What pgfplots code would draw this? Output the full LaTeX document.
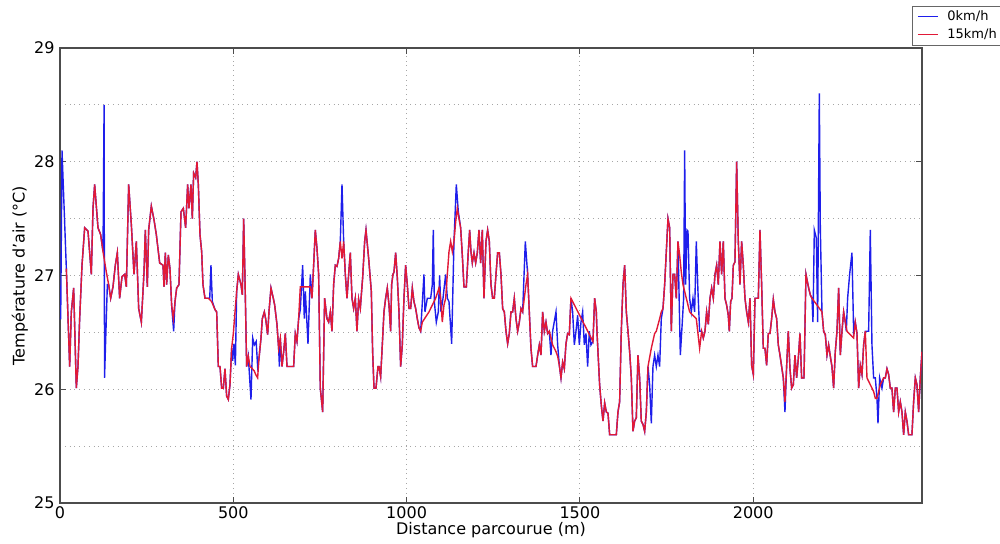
\documentclass[border=0pt]{standalone}
\usepackage{fontspec}
\setmainfont{DejaVu Sans}
\usepackage{pgfplots}
\usepackage{pgfplotstable}
\pgfplotsset{compat=1.18}
\definecolor{mplblue}{RGB}{30,30,235}
\definecolor{mplred}{RGB}{225,25,55}

\pgfplotstableread{
x y
18.3 27.06
27.9 26.20
32.7 26.68
39.4 26.89
47.1 26.01
51.9 26.20
56.7 26.62
63.5 27.09
71.2 27.42
80.8 27.39
90.4 27.01
95.2 27.59
100.0 27.80
104.8 27.61
109.6 27.42
117.3 27.36
124.1 27.21
133.7 27.03
140.4 26.92
146.2 26.80
152.9 26.90
159.6 27.09
165.4 27.20
172.1 26.80
178.9 26.99
186.6 27.01
191.4 26.90
198.1 27.80
205.8 27.45
213.5 27.01
220.2 27.30
227.0 26.71
234.7 26.59
242.4 27.03
246.2 27.40
252.0 26.90
255.8 27.40
263.5 27.61
271.2 27.49
277.9 27.36
287.6 27.11
297.2 27.09
300.1 26.90
303.9 27.20
307.7 26.92
312.5 27.18
317.3 27.06
322.1 26.74
326.9 26.62
331.8 26.77
336.6 26.89
343.3 26.92
349.1 27.56
355.8 27.59
362.5 27.42
368.3 27.80
372.1 27.59
377.9 27.80
381.8 27.50
385.6 27.90
391.4 27.86
395.2 28.00
399.1 27.80
403.9 27.36
408.7 27.21
412.5 26.92
418.3 26.80
427.9 26.80
437.5 26.77
447.2 26.70
452.0 26.68
456.8 26.20
461.6 26.20
466.4 26.01
471.2 26.01
476.0 26.18
480.8 25.94
485.6 25.91
490.4 26.04
495.2 26.36
500.1 26.49
504.9 26.68
509.7 26.86
514.5 27.01
522.2 26.92
526.0 26.83
529.9 27.50
533.7 26.98
538.5 26.20
543.3 26.29
548.1 26.20
554.9 26.18
560.6 26.16
564.5 26.13
570.2 26.10
574.1 26.27
579.9 26.45
583.7 26.62
589.5 26.68
593.3 26.62
599.1 26.48
602.9 26.68
608.7 26.89
615.4 26.80
619.3 26.74
626.0 26.57
630.8 26.36
635.6 26.45
640.5 26.20
645.3 26.33
650.1 26.49
654.9 26.20
664.5 26.20
674.1 26.20
678.9 26.49
683.7 26.42
688.5 26.62
693.3 26.90
722.2 26.90
727.0 26.80
731.8 27.09
736.6 27.40
741.4 27.24
746.2 27.01
751.0 26.01
757.8 25.80
763.5 26.80
770.3 26.62
775.1 26.59
779.9 26.68
784.7 26.51
789.5 26.92
794.3 27.09
799.1 27.08
803.9 27.15
808.7 27.30
813.6 27.15
818.4 27.30
823.2 27.01
828.0 26.80
832.8 27.01
837.6 27.20
842.4 26.80
847.2 26.71
852.0 26.80
856.8 26.51
861.6 26.79
866.4 26.71
873.2 26.98
879.0 27.30
882.8 27.40
890.5 27.15
898.2 26.86
902.0 26.33
905.9 26.01
911.7 26.01
917.4 26.20
920.3 26.20
925.1 26.11
929.9 26.39
934.7 26.68
939.5 26.80
944.3 26.89
949.2 26.74
954.0 26.51
956.8 26.92
960.7 27.01
963.6 27.03
968.4 27.20
973.2 26.98
978.0 26.68
982.8 26.20
987.6 26.39
992.4 26.80
997.2 27.09
1002.0 26.92
1006.9 26.71
1011.7 26.71
1016.5 26.89
1021.3 26.77
1026.1 26.71
1030.9 26.62
1035.7 26.54
1040.5 26.51
1045.3 26.59
1064.6 26.68
1083.8 26.80
1093.4 26.89
1098.2 26.80
1103.0 26.59
1107.8 26.74
1112.7 26.80
1117.5 27.01
1122.3 27.21
1127.1 27.30
1131.9 27.21
1136.7 27.30
1141.5 27.47
1146.3 27.59
1151.1 27.50
1155.9 27.42
1160.7 27.18
1165.5 26.90
1172.3 26.90
1178.0 27.21
1181.9 27.40
1185.7 27.21
1189.6 27.11
1194.4 27.20
1199.2 27.11
1204.0 27.20
1208.8 27.40
1213.6 27.11
1218.4 27.40
1223.2 26.80
1229.0 27.30
1233.8 27.40
1238.6 27.30
1243.4 26.92
1248.2 26.80
1253.0 26.80
1257.9 27.01
1262.7 27.20
1267.5 27.20
1272.3 27.01
1277.1 26.71
1281.9 26.68
1286.7 26.51
1291.5 26.40
1296.3 26.49
1301.1 26.68
1305.9 26.68
1310.7 26.80
1315.6 26.62
1320.4 26.51
1325.2 26.59
1330.0 26.71
1334.8 26.68
1339.6 26.80
1344.4 26.92
1349.2 27.01
1354.0 26.68
1358.8 26.36
1363.6 26.20
1373.3 26.20
1378.1 26.30
1382.9 26.39
1387.7 26.30
1392.5 26.68
1397.3 26.51
1402.1 26.59
1406.9 26.49
1411.7 26.51
1416.5 26.45
1421.3 26.39
1426.2 26.36
1431.0 26.33
1435.8 26.29
1440.6 26.21
1445.4 26.10
1450.2 26.24
1455.0 26.18
1459.8 26.40
1464.6 26.49
1469.4 26.48
1474.2 26.80
1537.7 26.42
1542.5 26.80
1547.3 26.68
1549.2 26.51
1552.1 26.33
1556.9 26.04
1561.7 25.86
1566.6 25.72
1571.4 25.88
1576.2 25.80
1581.0 25.79
1585.8 25.60
1605.0 25.60
1609.8 25.80
1614.6 25.89
1619.4 26.51
1624.3 26.92
1629.1 27.09
1633.9 26.68
1638.7 26.51
1643.5 26.33
1648.3 26.10
1653.1 25.63
1657.9 25.72
1662.7 25.75
1667.5 26.30
1672.3 26.10
1677.1 25.72
1682.0 25.69
1686.8 25.63
1691.6 25.80
1696.4 26.20
1706.0 26.36
1715.6 26.49
1720.4 26.51
1730.0 26.62
1734.8 26.68
1739.7 26.71
1744.5 26.92
1749.3 27.21
1754.1 27.50
1758.9 27.42
1763.7 26.51
1768.5 27.01
1773.3 27.01
1778.1 26.80
1782.9 27.30
1787.7 27.18
1792.5 27.03
1797.4 26.92
1807.0 26.80
1816.6 26.68
1826.2 26.65
1835.8 26.62
1845.4 26.36
1851.2 26.51
1856.0 26.45
1860.8 26.51
1865.6 26.68
1870.4 26.57
1875.3 26.80
1880.1 26.89
1884.9 26.80
1889.7 27.01
1894.5 27.09
1899.3 26.92
1904.1 27.30
1908.9 27.01
1913.7 27.30
1918.5 26.80
1923.3 26.74
1928.1 26.65
1931.0 26.51
1934.9 26.77
1938.7 26.80
1942.6 27.09
1947.4 27.12
1952.2 28.00
1957.0 27.30
1961.8 26.92
1966.6 27.30
1971.4 27.09
1976.2 26.80
1981.0 26.68
1985.9 26.59
1990.7 26.80
1995.5 26.21
2000.3 26.13
2005.1 26.80
2014.7 26.80
2019.5 27.40
2024.3 26.92
2029.1 26.36
2033.9 26.36
2038.7 26.21
2043.5 26.49
2048.4 26.49
2053.2 26.62
2058.0 26.79
2062.8 26.68
2067.6 26.62
2072.4 26.39
2077.2 26.30
2082.0 26.20
2086.8 26.10
2091.6 25.89
2096.4 26.20
2101.2 26.51
2106.1 26.18
2110.9 26.01
2115.7 26.04
2120.5 26.30
2125.3 26.10
2130.1 26.27
2134.9 26.49
2139.7 26.10
2146.5 26.10
2152.2 27.01
2159.9 26.89
2164.7 26.83
2169.5 26.80
2184.0 26.74
2198.4 26.68
2203.2 26.51
2208.0 26.48
2212.8 26.30
2217.6 26.39
2222.4 26.29
2227.2 26.20
2232.0 26.01
2236.8 26.33
2241.7 26.51
2246.5 26.89
2251.3 26.30
2256.1 26.51
2260.9 26.68
2265.7 26.59
2270.5 26.51
2280.1 26.48
2289.7 26.45
2294.5 26.59
2299.4 26.49
2304.2 26.01
2309.0 26.21
2313.8 26.13
2318.6 26.39
2323.4 26.51
2328.2 26.10
2337.8 26.04
2347.4 25.98
2352.3 25.92
2357.1 25.92
2361.9 25.98
2366.7 26.04
2376.3 26.10
2381.1 26.10
2385.9 26.18
2390.7 26.13
2395.5 26.01
2400.3 26.01
2405.1 25.80
2410.0 26.01
2414.8 26.01
2419.6 25.80
2424.4 25.89
2429.2 25.80
2434.0 25.60
2438.8 25.80
2443.6 25.72
2448.4 25.60
2458.0 25.60
2462.8 25.89
2467.7 26.10
2472.5 26.04
2477.3 25.80
2482.1 26.10
2486.9 26.33
}\redtab

\pgfplotstableread{
x y
0 26.62
2 26.62
5.8 28.10
18.3 27.06
27.9 26.20
32.7 26.68
39.4 26.89
47.1 26.01
51.9 26.20
56.7 26.62
63.5 27.09
71.2 27.42
80.8 27.39
90.4 27.01
95.2 27.59
100.0 27.80
104.8 27.61
109.6 27.42
117.3 27.36
124.1 27.21
127.2 28.50
128.5 26.10
136.6 26.92
140.4 26.92
146.2 26.80
152.9 26.90
159.6 27.09
165.4 27.20
172.1 26.80
178.9 26.99
186.6 27.01
191.4 26.90
198.1 27.80
205.8 27.45
213.5 27.01
220.2 27.30
227.0 26.71
234.7 26.59
242.4 27.03
246.2 27.40
252.0 26.90
255.8 27.40
263.5 27.61
271.2 27.49
277.9 27.36
287.6 27.11
297.2 27.09
300.1 26.90
303.9 27.20
307.7 26.92
312.5 27.18
317.3 27.06
322.1 26.74
327.9 26.51
331.8 26.77
336.6 26.89
343.3 26.92
349.1 27.56
355.8 27.59
362.5 27.42
368.3 27.80
372.1 27.59
377.9 27.80
381.8 27.50
385.6 27.90
391.4 27.86
395.2 28.00
399.1 27.80
403.9 27.36
408.7 27.21
412.5 26.92
418.3 26.80
427.9 26.80
432.0 26.80
435.6 27.09
439.5 26.77
447.2 26.70
452.0 26.68
456.8 26.20
461.6 26.20
466.4 26.01
471.2 26.01
476.0 26.18
480.8 25.94
485.6 25.91
490.4 26.04
495.2 26.36
498.0 26.25
502.0 26.40
506.0 26.21
509.7 26.86
514.5 27.01
522.2 26.92
526.0 26.83
529.9 27.50
533.7 26.98
538.5 26.20
543.3 26.29
551.0 25.91
556.0 26.45
560.6 26.39
566.0 26.42
570.2 26.20
574.1 26.27
579.9 26.45
583.7 26.62
589.5 26.68
593.3 26.62
599.1 26.48
602.9 26.68
608.7 26.89
615.4 26.80
619.3 26.74
626.0 26.57
630.8 26.36
633.0 26.20
635.6 26.45
640.5 26.20
645.3 26.33
650.1 26.49
654.9 26.20
664.5 26.20
674.1 26.20
678.9 26.49
683.7 26.42
688.5 26.62
693.3 26.70
700.1 27.09
704.9 26.62
707.8 26.86
715.5 26.40
722.2 27.01
727.0 26.80
731.8 27.09
736.6 27.40
741.4 27.24
746.2 27.01
751.0 26.01
757.8 25.80
763.5 26.80
770.3 26.62
775.1 26.59
779.9 26.68
784.7 26.51
789.5 26.92
794.3 27.09
799.1 27.08
803.9 27.15
808.7 27.30
813.6 27.80
818.4 27.30
823.2 27.01
828.0 26.80
832.8 27.01
837.6 27.20
842.4 26.80
847.2 26.71
852.0 26.80
856.8 26.51
861.6 26.79
866.4 26.71
873.2 26.98
879.0 27.30
882.8 27.40
890.5 27.15
898.2 26.86
902.0 26.33
905.9 26.01
911.7 26.01
917.4 26.20
920.3 26.20
925.1 26.11
929.9 26.39
934.7 26.68
939.5 26.80
944.3 26.89
949.2 26.74
954.0 26.51
956.8 26.92
960.7 27.01
963.6 27.03
968.4 27.20
973.2 26.98
978.0 26.68
982.8 26.20
987.6 26.39
992.4 26.80
997.2 27.09
1002.0 26.92
1006.9 26.71
1011.7 26.71
1016.5 26.89
1021.3 26.77
1026.1 26.71
1030.9 26.62
1035.7 26.54
1040.5 26.51
1050.1 27.01
1053.0 26.68
1059.8 26.80
1069.4 26.80
1074.2 26.92
1077.0 27.40
1080.0 26.77
1085.7 26.59
1091.5 26.68
1095.3 27.00
1099.2 26.68
1105.0 26.80
1112.7 27.01
1117.5 26.80
1122.3 26.77
1130.0 26.40
1136.7 27.30
1143.4 27.80
1149.2 27.56
1155.9 27.42
1160.7 27.18
1165.5 26.90
1172.3 26.90
1178.0 27.21
1181.9 27.40
1185.7 27.21
1189.6 27.11
1194.4 27.20
1199.2 27.11
1204.0 27.20
1208.8 27.40
1213.6 27.11
1218.4 27.40
1223.2 26.80
1229.0 27.30
1233.8 27.40
1238.6 27.30
1243.4 26.92
1248.2 26.80
1253.0 26.80
1257.9 27.01
1262.7 27.20
1267.5 27.20
1272.3 27.01
1277.1 26.71
1281.9 26.68
1286.7 26.51
1291.5 26.40
1296.3 26.49
1301.1 26.68
1305.9 26.68
1310.7 26.80
1315.6 26.62
1320.4 26.51
1325.2 26.59
1330.0 26.71
1334.8 26.68
1342.5 27.30
1349.2 27.01
1354.0 26.68
1358.8 26.36
1363.6 26.20
1373.3 26.20
1378.1 26.30
1382.9 26.39
1387.7 26.30
1392.5 26.68
1397.3 26.51
1402.1 26.59
1406.9 26.49
1411.7 26.51
1416.5 26.30
1421.3 26.51
1431.0 26.68
1435.8 26.39
1440.6 26.21
1445.4 26.10
1450.2 26.24
1455.0 26.18
1459.8 26.40
1464.6 26.49
1469.4 26.48
1474.2 26.80
1479.0 26.68
1483.9 26.39
1488.7 26.51
1493.5 26.65
1498.3 26.39
1503.1 26.59
1507.9 26.68
1512.7 26.39
1517.5 26.49
1522.3 26.20
1527.1 26.51
1531.9 26.39
1537.7 26.42
1542.5 26.80
1547.3 26.68
1549.2 26.51
1552.1 26.33
1556.9 26.04
1561.7 25.86
1566.6 25.72
1571.4 25.88
1576.2 25.80
1581.0 25.79
1585.8 25.60
1605.0 25.60
1609.8 25.80
1614.6 25.89
1619.4 26.51
1624.3 26.92
1629.1 27.09
1633.9 26.68
1638.7 26.51
1643.5 26.33
1648.3 26.10
1653.1 25.63
1657.9 25.72
1662.7 25.75
1667.5 26.30
1672.3 26.10
1677.1 25.72
1682.0 25.69
1686.8 25.63
1691.6 25.80
1696.4 26.20
1701.2 26.04
1706.0 25.70
1710.8 26.20
1715.6 26.30
1720.4 26.20
1725.2 26.30
1730.0 26.20
1734.8 26.62
1739.7 26.71
1744.5 26.92
1749.3 27.21
1754.1 27.50
1758.9 27.42
1763.7 26.51
1768.5 27.01
1773.3 27.01
1778.1 26.80
1782.9 27.30
1789.7 26.30
1795.4 26.59
1799.3 26.80
1802.2 28.10
1805.1 26.92
1808.9 27.40
1811.8 27.39
1816.6 26.80
1821.4 26.68
1826.2 26.80
1831.0 26.68
1835.8 27.30
1840.6 26.86
1845.4 26.51
1851.2 26.51
1856.0 26.45
1860.8 26.51
1865.6 26.68
1870.4 26.57
1875.3 26.80
1880.1 26.89
1884.9 26.80
1889.7 27.01
1894.5 27.09
1899.3 26.92
1904.1 27.30
1908.9 27.01
1913.7 27.30
1918.5 26.80
1923.3 26.74
1928.1 26.65
1931.0 26.51
1934.9 26.77
1938.7 26.80
1942.6 27.09
1947.4 27.12
1952.2 28.00
1957.0 27.30
1961.8 26.92
1966.6 27.30
1971.4 27.09
1976.2 26.80
1981.0 26.68
1985.9 26.59
1990.7 26.80
1995.5 26.21
2000.3 26.13
2005.1 26.80
2014.7 26.80
2019.5 27.40
2024.3 26.92
2029.1 26.36
2033.9 26.36
2038.7 26.21
2043.5 26.49
2048.4 26.49
2053.2 26.62
2058.0 26.79
2062.8 26.68
2067.6 26.62
2072.4 26.39
2077.2 26.30
2082.0 26.20
2086.8 26.10
2091.6 25.80
2096.4 26.20
2101.2 26.51
2106.1 26.18
2110.9 26.01
2115.7 26.04
2120.5 26.30
2125.3 26.10
2130.1 26.27
2134.9 26.49
2139.7 26.10
2146.5 26.10
2152.2 27.01
2159.9 26.89
2164.7 26.83
2169.5 26.80
2172.4 26.59
2176.3 27.40
2182.0 27.33
2185.9 26.59
2190.7 28.60
2193.6 27.42
2198.4 26.68
2203.2 26.51
2208.0 26.48
2212.8 26.30
2217.6 26.39
2222.4 26.29
2227.2 26.20
2232.0 26.01
2236.8 26.33
2241.7 26.51
2246.5 26.89
2251.3 26.30
2256.1 26.51
2260.9 26.68
2265.7 26.59
2268.6 26.51
2272.4 26.80
2278.2 27.01
2284.9 27.20
2289.7 26.51
2294.5 26.59
2299.4 26.49
2304.2 26.01
2309.0 26.21
2313.8 26.13
2318.6 26.39
2323.4 26.51
2333.0 26.51
2337.8 27.40
2342.6 26.39
2347.4 26.10
2352.3 26.10
2357.1 25.92
2360.0 25.70
2364.8 26.10
2371.5 26.01
2376.3 26.10
2381.1 26.10
2385.9 26.18
2390.7 26.13
2395.5 26.01
2400.3 26.01
2405.1 25.80
2410.0 26.01
2414.8 26.01
2419.6 25.80
2424.4 25.89
2429.2 25.80
2434.0 25.60
2438.8 25.80
2443.6 25.72
2448.4 25.60
2458.0 25.60
2462.8 25.89
2467.7 26.10
2472.5 26.04
2477.3 25.80
2482.1 26.10
2486.9 26.33
}\bluetab

\begin{document}
\begin{tikzpicture}
\useasboundingbox (-30pt,-20.5pt) rectangle (470pt,251.5pt);
\begin{axis}[
  scale only axis,
  width=431pt, height=227.5pt,
  xmin=0, xmax=2487, ymin=25, ymax=29,
  xtick={0,500,1000,1500,2000},
  ytick={25,26,27,28,29},
  minor ytick={25.5,26.5,27.5,28.5},
  grid=both,
  major grid style={black!35, dotted, line width=0.5pt},
  minor grid style={black!35, dotted, line width=0.5pt},
  axis line style={black!70, line width=0.6pt},
  tick align=inside,
  major tick length=3pt,
  minor tick length=0pt,
  tick style={black!70, line width=0.5pt},
  /pgf/number format/assume math mode=true,
  /pgf/number format/1000 sep={},
  scaled x ticks=false,
  ticklabel style={font=\fontsize{8}{9}\selectfont},
  xticklabel style={inner sep=1.5pt},
  yticklabel style={inner sep=2.5pt},
  xlabel={Distance parcourue (m)},
  ylabel={Température d'air (°C)},
  label style={font=\fontsize{8}{9}\selectfont},
  xlabel style={at={(axis description cs:0.5,-0.0593)}, anchor=center},
  ylabel style={at={(axis description cs:-0.0464,0.5)}, anchor=center},
  legend style={at={(axis description cs:0.9884,1.0923)}, anchor=north west,
    font=\fontsize{6.5}{7.5}\selectfont, draw=black!60, line width=0.4pt,
    inner xsep=2.5pt, inner ysep=1.5pt, row sep=1.5pt,
    nodes={inner sep=0.5pt, text height=5pt, text depth=1.5pt},
    /tikz/every odd column/.append style={column sep=4pt}},
  legend cell align=left,
  legend image code/.code={\draw[#1, line width=0.5pt] (0pt,0pt) -- (10pt,0pt);},
]
\addplot[mplblue, line width=0.7pt] table[x=x,y=y]{\bluetab};
\addlegendentry{0km/h}
\addplot[mplred, line width=0.7pt] table[x=x,y=y]{\redtab};
\addlegendentry{15km/h}
\end{axis}
\end{tikzpicture}
\end{document}
